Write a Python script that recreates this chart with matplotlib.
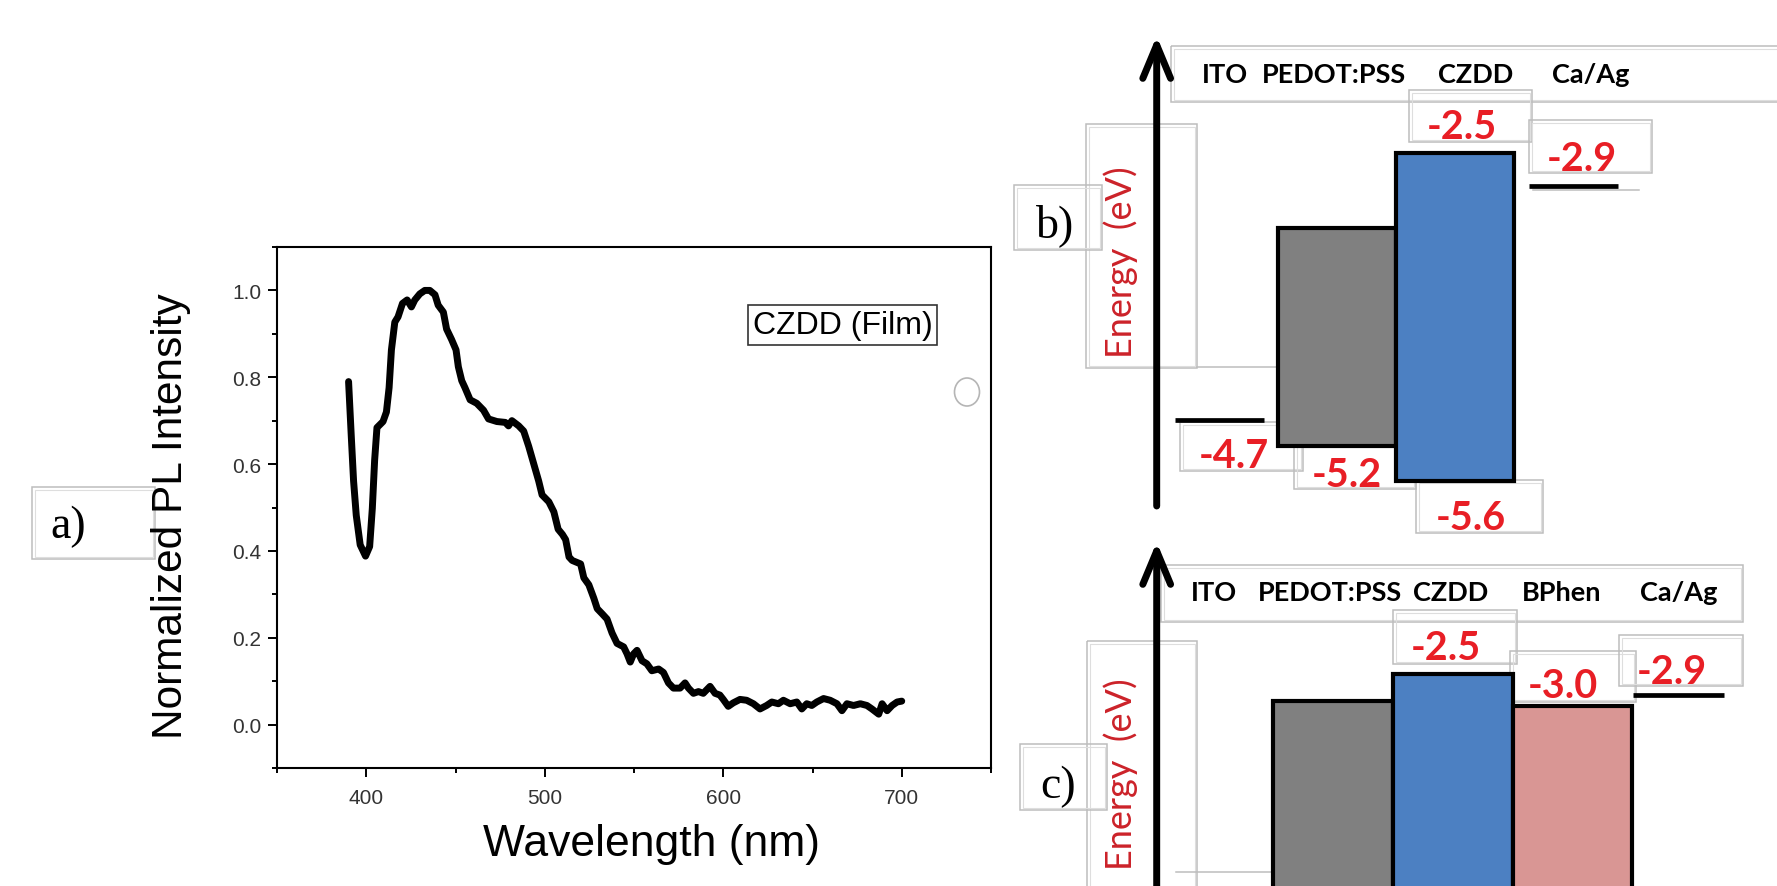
import matplotlib.pyplot as plt
from matplotlib.patches import Rectangle, Ellipse
from matplotlib.ticker import MultipleLocator, FormatStrFormatter

plt.rcParams["font.family"] = ["Liberation Sans", "DejaVu Sans"]

W, H = 1777, 887

# ---- (a) PL spectrum of CZDD film ----
WAVELENGTH = [390.1, 391.6, 392.9, 394.4, 396.6, 399.6, 401.9, 403.4, 404.7, 406.0,
              409.4, 411.3, 412.8, 414.1, 416.0, 417.8, 420.3, 422.9, 425.3, 427.2,
              430.0, 432.8, 435.6, 438.5, 440.3, 443.2, 445.0, 447.8, 450.3, 451.6,
              453.5, 455.3, 458.2, 461.9, 465.7, 468.5, 473.2, 477.9, 479.7, 481.6,
              485.4, 488.2, 491.0, 493.8, 496.6, 498.5, 502.3, 505.1, 507.5, 509.9,
              511.7, 513.6, 515.4, 520.1, 521.9, 524.7, 527.5, 529.4, 532.2, 534.9,
              537.7, 540.5, 544.2, 546.1, 547.9, 549.8, 551.7, 554.5, 557.2, 560.0,
              563.8, 566.5, 569.3, 572.1, 575.8, 578.6, 580.5, 583.3, 586.1, 588.8,
              592.6, 595.4, 598.1, 600.0, 602.8, 605.6, 609.4, 613.1, 616.9, 620.6,
              624.3, 627.2, 630.9, 633.7, 637.5, 641.2, 644.0, 646.8, 649.6, 652.4,
              656.2, 659.9, 663.7, 666.5, 669.3, 673.0, 676.8, 680.5, 683.3, 687.1,
              689.0, 691.8, 694.6, 697.4, 700.0]
INTENSITY = [0.790, 0.665, 0.561, 0.482, 0.414, 0.388, 0.410, 0.498, 0.609, 0.684,
             0.698, 0.720, 0.776, 0.863, 0.927, 0.939, 0.970, 0.978, 0.962, 0.978,
             0.992, 1.000, 1.000, 0.990, 0.966, 0.950, 0.911, 0.887, 0.863, 0.824,
             0.792, 0.776, 0.748, 0.740, 0.724, 0.704, 0.698, 0.696, 0.688, 0.700,
             0.688, 0.676, 0.641, 0.601, 0.561, 0.529, 0.513, 0.490, 0.450, 0.438,
             0.426, 0.386, 0.378, 0.370, 0.338, 0.322, 0.291, 0.267, 0.255, 0.243,
             0.211, 0.187, 0.179, 0.163, 0.144, 0.163, 0.171, 0.147, 0.140, 0.124,
             0.128, 0.120, 0.096, 0.084, 0.084, 0.096, 0.084, 0.072, 0.076, 0.072,
             0.088, 0.072, 0.068, 0.058, 0.042, 0.050, 0.058, 0.056, 0.048, 0.036,
             0.044, 0.052, 0.048, 0.056, 0.048, 0.052, 0.036, 0.048, 0.044, 0.052,
             0.060, 0.056, 0.048, 0.032, 0.048, 0.044, 0.048, 0.044, 0.036, 0.024,
             0.048, 0.032, 0.044, 0.052, 0.054]

# ---- (b) energy diagram: ITO / PEDOT:PSS / CZDD / Ca/Ag ----
B_LAYERS = ["ITO", "PEDOT:PSS", "CZDD", "Ca/Ag"]
B_X = [0, 1, 2, 3]
B_TOP = [-5.02, -3.21, -2.50, -2.81]        # drawn level (sketch scale, eV)
B_BOTTOM = [None, -5.27, -5.60, None]
B_FILL = [None, "#808080", "#4c80c2", None]
B_VALUES = ["-2.5", "-2.9", "-4.7", "-5.2", "-5.6"]
B_VALUE_POS = [(2.05, -2.25), (3.07, -2.55), (0.12, -5.36), (1.08, -5.54), (2.13, -5.95)]

# ---- (c) energy diagram: ITO / PEDOT:PSS / CZDD / BPhen / Ca/Ag ----
C_LAYERS = ["ITO", "PEDOT:PSS", "CZDD", "BPhen", "Ca/Ag"]
C_X = [0, 1, 2, 3, 3.89]
C_TOP = [-5.02, -2.76, -2.50, -2.80, -2.70]
C_BOTTOM = [None, -5.20, -5.60, -6.40, None]
C_FILL = [None, "#808080", "#4c80c2", "#d99694", None]
C_VALUES = ["-2.5", "-3.0", "-2.9"]
C_VALUE_POS = [(1.94, -2.245), (2.92, -2.61), (3.83, -2.48)]

RED = "#e81e25"
ERED = "#cc2229"
BOXC = "#bdbdbd"


def frame(ax, x0, y0, x1, y1):
    ax.add_patch(Rectangle((x0, y0), x1 - x0, y1 - y0, fill=False, ec=BOXC, lw=1.1))
    ax.add_patch(Rectangle((x0 + 2.5, y0 + 2.5), x1 - x0 - 5, y1 - y0 - 5,
                           fill=False, ec="#dedede", lw=0.8))


def energy_panel(ax, xs, tops, bottoms, fills, layers, head_x, head_y,
                 values, value_pos):
    for x, top, bot, fc in zip(xs, tops, bottoms, fills):
        if bot is None:
            ax.hlines(top, x - 0.38, x + 0.38, color="black", lw=3.4)
        else:
            ax.bar(x, top - bot, bottom=bot, width=1.0, color=fc,
                   edgecolor="black", linewidth=3.0)
    for name, hx in zip(layers, head_x):
        ax.text(hx, head_y, name, ha="center", va="center", fontsize=19.5,
                fontweight="bold", family=["Lato", "DejaVu Sans"])
    for txt, (vx, vy) in zip(values, value_pos):
        ax.text(vx, vy, txt, ha="center", va="center", fontsize=28.5,
                fontweight="bold", color=RED, family=["Lato", "DejaVu Sans"])
    ax.axis("off")


fig = plt.figure(figsize=(W / 100, H / 100), dpi=100)

# decoration layer in pixel coordinates (text-box frames, arrows, panel tags)
ov = fig.add_axes([0, 0, 1, 1], zorder=0)
ov.set_xlim(0, W)
ov.set_ylim(H, 0)
ov.axis("off")

# panel a tag
frame(ov, 32, 488, 155, 560)
ov.text(68, 527, "a)", fontsize=33, family="Liberation Serif", ha="center", va="center")
ov.add_patch(Ellipse((967, 393), 25, 28, fill=False, ec="#b5b5b5", lw=1.2))

# panel b decorations
frame(ov, 1171, 47, 1800, 103)
for bx in [(1409, 91, 1532, 143), (1529, 121, 1652, 174), (1180, 423, 1303, 472),
           (1294, 445, 1416, 490), (1416, 481, 1543, 534)]:
    frame(ov, *bx)
frame(ov, 1086, 125, 1197, 369)
ov.plot([1197, 1276], [368, 368], color=BOXC, lw=1.1)
ov.plot([1533, 1639], [191, 191], color=BOXC, lw=1.1)
frame(ov, 1014, 186, 1102, 251)
ov.text(1055, 226, "b)", fontsize=33, family="Liberation Serif", ha="center", va="center")
ov.text(1121, 262, "Energy  (eV)", rotation=90, ha="center", va="center",
        fontsize=26, color=ERED, family=["Lato", "DejaVu Sans"])
ov.annotate("", xy=(1156.7, 37), xytext=(1156.7, 507),
            arrowprops=dict(arrowstyle="->,head_length=0.6,head_width=0.25",
                            mutation_scale=40, lw=5, color="black",
                            shrinkA=0, shrinkB=0))

# panel c decorations
frame(ov, 1161, 566, 1743, 623)
for bx in [(1393, 611, 1517, 665), (1510, 652, 1636, 703), (1619, 636, 1743, 687)]:
    frame(ov, *bx)
frame(ov, 1087, 642, 1197, 900)
ov.plot([1176, 1272], [873, 873], color=BOXC, lw=1.1)
frame(ov, 1020, 745, 1107, 811)
ov.text(1058, 787, "c)", fontsize=33, family="Liberation Serif", ha="center", va="center")
ov.text(1121, 774, "Energy  (eV)", rotation=90, ha="center", va="center",
        fontsize=26, color=ERED, family=["Lato", "DejaVu Sans"])
ov.annotate("", xy=(1156.7, 543), xytext=(1156.7, 900),
            arrowprops=dict(arrowstyle="->,head_length=0.6,head_width=0.25",
                            mutation_scale=40, lw=5, color="black",
                            shrinkA=0, shrinkB=0))

# ---- panel a ----
ax = fig.add_axes([277 / W, 1 - 769 / H, 714 / W, 521 / H], zorder=2)
ax.patch.set_alpha(0)
ax.plot(WAVELENGTH, INTENSITY, color="black", lw=5.0, solid_joinstyle="round",
        solid_capstyle="round")
ax.set_xlim(350, 750)
ax.set_ylim(-0.1, 1.1)
ax.xaxis.set_major_locator(MultipleLocator(100))
ax.xaxis.set_minor_locator(MultipleLocator(50))
ax.yaxis.set_major_locator(MultipleLocator(0.2))
ax.yaxis.set_minor_locator(MultipleLocator(0.1))
ax.yaxis.set_major_formatter(FormatStrFormatter("%.1f"))
ax.tick_params(which="both", direction="out", width=1.4, top=False, right=False,
               labelsize=15, labelcolor="#333333")
ax.tick_params(which="major", length=6.5)
ax.tick_params(which="minor", length=3.6)
ax.tick_params(axis="x", which="major", pad=8)
ax.tick_params(axis="y", which="major", pad=5)
for sp in ax.spines.values():
    sp.set_linewidth(1.5)
ax.set_xlabel("Wavelength (nm)", fontsize=32)
ax.set_ylabel("Normalized PL Intensity", fontsize=30.5)
ax.xaxis.set_label_coords(0.524, -0.145)
ax.xaxis.label.set_va("center")
ax.yaxis.set_label_coords(-0.148, 0.486)
ax.yaxis.label.set_va("center")
ax.text(0.792, 0.85, "CZDD (Film)", transform=ax.transAxes, fontsize=23,
        ha="center", va="center",
        bbox=dict(boxstyle="square,pad=0.15", fc="white", ec="#333333", lw=1.2))

# ---- panel b ----
axb = fig.add_axes([1100 / W, 1 - 530 / H, 677 / W, 530 / H], zorder=2)
axb.patch.set_alpha(0)
axb.set_xlim(-1.0127, 4.7246)
axb.set_ylim(-6.054, -1.0444)
energy_panel(axb, B_X, B_TOP, B_BOTTOM, B_FILL, B_LAYERS,
             [0.047, 0.966, 2.174, 3.148], -1.753, B_VALUES, B_VALUE_POS)

# ---- panel c ----
axc = fig.add_axes([1100 / W, 0, 677 / W, 357 / H], zorder=2)
axc.patch.set_alpha(0)
axc.set_xlim(-0.9466, 4.709)
axc.set_ylim(-4.504, -1.1295)
energy_panel(axc, C_X, C_TOP, C_BOTTOM, C_FILL, C_LAYERS,
             [0.006, 0.971, 1.986, 2.913, 3.89], -1.725, C_VALUES, C_VALUE_POS)

fig.savefig("out.png", dpi=100)
